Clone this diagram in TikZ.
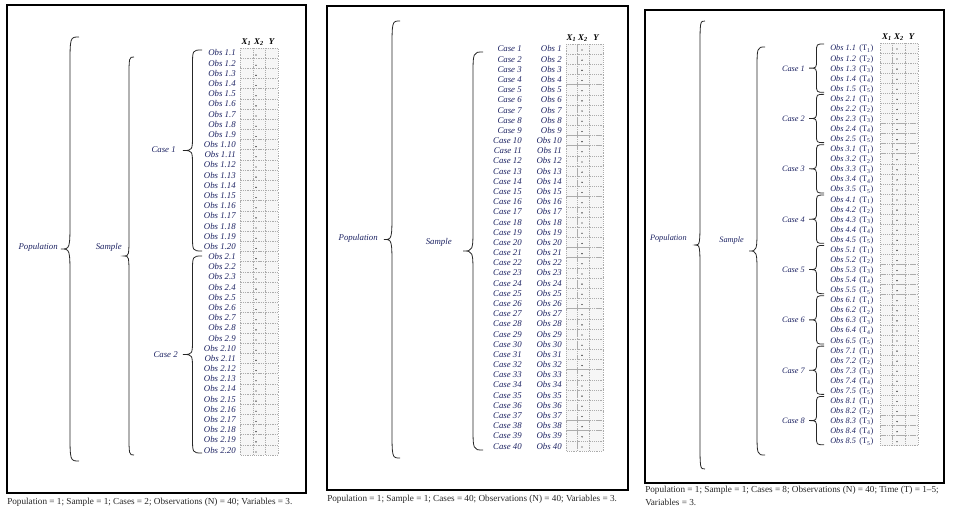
\documentclass[tikz,border=0pt]{standalone}
\usepackage{fontspec}
\setmainfont{Liberation Serif}
\usepackage{xcolor}
\definecolor{ink}{RGB}{28,34,98}

\begin{document}
\begin{tikzpicture}[x=0.75pt, y=-0.75pt,
  lbl/.style={font=\fontsize{6.6}{7}\selectfont\itshape, text=ink, inner sep=0pt, text height=4.5pt, text depth=0pt},
  slbl/.style={lbl, font=\fontsize{6.2}{7}\selectfont\itshape},
  tlbl/.style={font=\fontsize{6.2}{7}\selectfont, text=ink, inner sep=0pt, text height=4.5pt, text depth=0pt},
  hdr/.style={font=\fontsize{6.6}{7}\selectfont\bfseries\itshape, inner sep=0pt},
  captxt/.style={font=\fontsize{6.9}{10}\selectfont, text=black!85, inner sep=0pt, anchor=west, align=left},
  frame/.style={draw, line width=0.8pt},
  cell/.style={fill=gray!7, draw=gray!65, densely dotted, line width=0.4pt},
  brc/.style={draw=black!85, line width=0.6pt}]

\useasboundingbox (0,0) rectangle (959,509);

% Llave: extremo x, punta x, arriba y, abajo y, curva
\def\curlybrace#1#2#3#4#5{
  \draw[brc] (#1,#3) .. controls ({(#1+#2)/2},#3) .. ({(#1+#2)/2},{#3+#5})
    -- ({(#1+#2)/2},{(#3+#4)/2-#5}) .. controls ({(#1+#2)/2},{(#3+#4)/2}) .. (#2,{(#3+#4)/2})
    .. controls ({(#1+#2)/2},{(#3+#4)/2}) .. ({(#1+#2)/2},{(#3+#4)/2+#5})
    -- ({(#1+#2)/2},{#4-#5}) .. controls ({(#1+#2)/2},#4) .. (#1,#4);
}

% ---------- Panel 1: two cases ----------
\draw[frame] (7,5) rectangle (306,493);
\node[captxt] (capA) at (7,502) {Population = 1; Sample = 1; Cases = 2; Observations (N) = 40; Variables = 3.};

% Cabecera de la tabla
\node[hdr] (xoneA) at (246.5,42) {X\textsubscript{1}};
\node[hdr] (xtwoA) at (259,42) {X\textsubscript{2}};
\node[hdr] (yA) at (271.5,42) {Y};

% Filas
\foreach \r in {1,...,40}{
  \pgfmathsetmacro\yy{53+(\r-1)*10.18}
  \pgfmathtruncatemacro\cs{int((\r-1)/20)+1}
  \pgfmathtruncatemacro\ob{mod(\r-1,20)+1}
  \foreach \xl/\xr in {240/253,253/265,265/278}
    \draw[cell] (\xl,\yy-5.09) rectangle (\xr,\yy+5.09);
  \fill (256,\yy+2) circle (0.5pt);
  \node[lbl, anchor=east] (obsA\r) at (236,\yy) {Obs \cs.\ob};
}

% Llaves
\curlybrace{79}{61}{37}{461}{30}
\curlybrace{134}{124}{57}{455}{22}
\curlybrace{202}{183}{50}{251}{16}
\curlybrace{202}{183}{256}{453}{16}
\node[lbl, anchor=east] (popA) at (58,247) {Population};
\node[lbl, anchor=east] (samA) at (122,247) {Sample};
\node[lbl, anchor=east] (caseA1) at (176,150) {Case 1};
\node[lbl, anchor=east] (caseA2) at (178,354) {Case 2};

% ---------- Panel 2: forty cases ----------
\draw[frame] (327,6) rectangle (628,490);
\node[captxt] (capB) at (327,499) {Population = 1; Sample = 1; Cases = 40; Observations (N) = 40; Variables = 3.};

\node[hdr] (xoneB) at (571.5,38) {X\textsubscript{1}};
\node[hdr] (xtwoB) at (583,38) {X\textsubscript{2}};
\node[hdr] (yB) at (596,38) {Y};

\foreach \r in {1,...,40}{
  \pgfmathsetmacro\yy{49+(\r-1)*10.18}
  \foreach \xl/\xr in {566/577.5,577.5/589,589/603}
    \draw[cell] (\xl,\yy-5.09) rectangle (\xr,\yy+5.09);
  \fill (582,\yy+1) circle (0.5pt);
  \node[lbl, anchor=east] (caseB\r) at (522,\yy) {Case \r};
  \node[lbl, anchor=east] (obsB\r) at (562,\yy) {Obs \r};
}

\curlybrace{400}{384}{21}{458}{30}
\curlybrace{483}{463}{52}{450}{25}
\node[lbl, anchor=east] (popB) at (378,238) {Population};
\node[lbl, anchor=east] (samB) at (452,242) {Sample};

% ---------- Panel 3: eight cases over time ----------
\draw[frame] (645,10) rectangle (944,483);
\node[captxt, anchor=north west] (capC) at (645,486) {Population = 1; Sample = 1; Cases = 8; Observations (N) = 40; Time (T) = 1--5;\\Variables = 3.};

\node[hdr] (xoneC) at (887,37) {X\textsubscript{1}};
\node[hdr] (xtwoC) at (899,37) {X\textsubscript{2}};
\node[hdr] (yC) at (911.5,37) {Y};

\foreach \r in {1,...,40}{
  \pgfmathsetmacro\yy{48+(\r-1)*10.07}
  \pgfmathtruncatemacro\cs{int((\r-1)/5)+1}
  \pgfmathtruncatemacro\ob{mod(\r-1,5)+1}
  \foreach \xl/\xr in {880.5/892.5,892.5/905,905/918}
    \draw[cell] (\xl,\yy-5.03) rectangle (\xr,\yy+5.03);
  \fill (897,\yy+1) circle (0.5pt);
  \node[slbl, anchor=west] (obsC\r) at (830,\yy) {Obs \cs.\ob};
  \node[tlbl, anchor=west] (timeC\r) at (859,\yy) {(T\textsubscript{\ob})};
}

% Llaves de los casos
\foreach \c in {1,...,8}{
  \pgfmathsetmacro\ytop{48+(5*\c-5)*10.07-4}
  \pgfmathsetmacro\ybot{48+(5*\c-1)*10.07+4}
  \curlybrace{824}{809}{\ytop}{\ybot}{8}
  \node[slbl, anchor=east] (caseC\c) at (805,{(\ytop+\ybot)/2}) {Case \c};
}

\curlybrace{705}{695}{21}{469}{30}
\curlybrace{765}{749}{47}{455}{25}
\node[slbl, anchor=east] (popC) at (687,238) {Population};
\node[slbl, anchor=east] (samC) at (744,240) {Sample};

\end{tikzpicture}
\end{document}
